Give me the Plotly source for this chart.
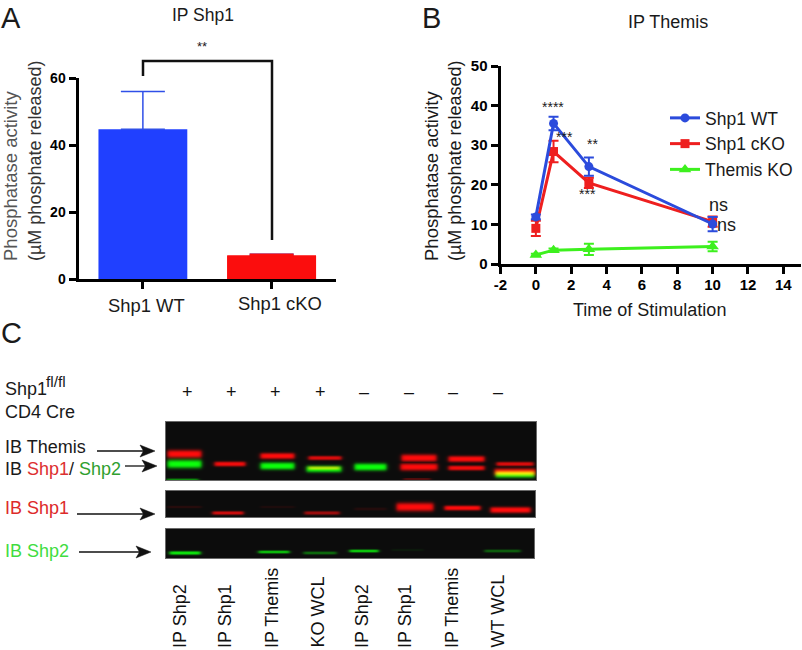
import numpy as np
import plotly.graph_objects as go

W, H = 802, 650
FONT = "Liberation Sans"

# Panel A
a_categories = ["Shp1 WT", "Shp1 cKO"]
a_values = [44.7, 7.0]
a_errors = [11.3, 0.4]
a_colors = ["#2040ff", "#fb0d0d"]

# Panel B
b_times = [0, 1, 3, 10]
b_wt = [11.9, 35.5, 24.6, 10.1]
b_wt_err = [0.6, 1.7, 2.3, 1.8]
b_cko = [9.0, 28.4, 20.5, 10.7]
b_cko_err = [1.9, 2.7, 1.3, 1.3]
b_tko = [2.3, 3.5, 3.7, 4.4]
b_tko_err = [0.3, 0.4, 1.4, 1.2]
b_xticks = [-2, 0, 2, 4, 6, 8, 10, 12, 14]
b_xticklabels = ["-2", "0", "2", "4", "6", "8", "10", "12", "14"]

# Panel C
lane_labels = ["IP Shp2", "IP Shp1", "IP Themis", "KO WCL", "IP Shp2", "IP Shp1", "IP Themis", "WT WCL"]
lane_signs = ["+", "+", "+", "+", "\u2013", "\u2013", "\u2013", "\u2013"]

# blot bands: x0, x1, y centre, thickness, channel, intensity
RED, GREEN = 0, 1
blot_bands = [
    (166, 203, 454, 6.5, RED, 1.0), (166, 203, 464, 7, GREEN, 1.0), (165, 200, 480, 2.5, GREEN, 0.55),
    (213, 247, 464, 4, RED, 0.95),
    (259, 296, 456, 5, RED, 1.0), (259, 296, 466, 6, GREEN, 1.0),
    (307, 343, 458, 3.5, RED, 0.85), (305, 343, 469, 5.5, GREEN, 0.95), (307, 341, 468, 3, RED, 0.65),
    (353, 388, 467, 6, GREEN, 1.0),
    (400, 438, 458, 6, RED, 1.0), (399, 439, 467, 6, RED, 1.0), (402, 432, 479, 1.5, RED, 0.35),
    (447, 486, 459, 5, RED, 1.0), (447, 486, 468, 4, RED, 0.95),
    (495, 535, 464, 3.5, RED, 0.85), (493, 537, 472, 6, RED, 1.0), (494, 536, 474.5, 5.5, GREEN, 0.95),
    # second panel
    (166, 203, 507, 2, RED, 0.12), (211, 245, 513, 3, RED, 0.8), (259, 296, 507, 2, RED, 0.08),
    (303, 341, 513, 3, RED, 0.6), (353, 388, 509, 2.5, RED, 0.1), (395, 435, 507, 7, RED, 1.0),
    (443, 482, 508, 4, RED, 1.0), (489, 532, 510, 5, RED, 1.0),
    # third panel
    (168, 202, 553, 3, GREEN, 0.9), (257, 291, 552, 2.5, GREEN, 0.75), (302, 338, 553, 2.5, GREEN, 0.4),
    (348, 380, 551, 2.5, GREEN, 0.8), (390, 425, 550, 2, GREEN, 0.06), (483, 522, 551, 2.5, GREEN, 0.35),
]
blot_panels = [(165, 537, 421, 481), (165, 536, 490, 518), (165, 535, 528, 559)]


def px(x):
    return x / W


def py(y):
    return 1 - y / H


def build_blot():
    x0, x1, y0, y1 = 164, 539, 420, 561
    xs = np.arange(x0, x1) + 0.5
    ys = np.arange(y0, y1) + 0.5
    img = np.full((len(ys), len(xs), 3), 255.0)
    for (a, b, c, d) in blot_panels:
        img[np.ix_((ys >= c) & (ys <= d), (xs >= a) & (xs <= b))] = 105
        img[np.ix_((ys >= c + 1) & (ys <= d - 1), (xs >= a + 1) & (xs <= b - 1))] = 12
    signal = np.zeros((len(ys), len(xs), 2))
    for (a, b, yc, t, ch, amp) in blot_bands:
        fy = np.exp(-np.abs((ys - yc) / (t * 0.62)) ** 2.6)
        fx = 1 / (1 + np.exp((a + 1.5 - xs) / 1.1)) * 1 / (1 + np.exp((xs - b + 1.5) / 1.1))
        signal[:, :, ch] = np.maximum(signal[:, :, ch], amp * np.outer(fy, fx))
    for (a, b, c, d) in blot_panels:
        sub = np.ix_((ys >= c + 1) & (ys <= d - 1), (xs >= a + 1) & (xs <= b - 1))
        reg = img[sub]
        s = signal[sub]
        reg[:, :, 0] = 12 + 243 * s[:, :, 0]
        reg[:, :, 1] = 12 + 243 * s[:, :, 1]
        reg[:, :, 2] = 12
        img[sub] = reg
    return img.astype(np.uint8), x0, y0, x1, y1


fig = go.Figure()

# ---------- Panel A
fig.add_trace(go.Bar(
    x=a_categories, y=a_values, width=0.69, marker=dict(color=a_colors, line=dict(width=0)),
    error_y=dict(type="data", symmetric=False, array=a_errors, arrayminus=[0, 0],
                 color="#2f4fe8", thickness=1.5, width=22),
    xaxis="x", yaxis="y", showlegend=False))
fig.add_trace(go.Bar(
    x=a_categories[1:], y=a_values[1:], width=0.69, marker=dict(color=a_colors[1], line=dict(width=0)),
    error_y=dict(type="data", symmetric=False, array=a_errors[1:], arrayminus=[0],
                 color=a_colors[1], thickness=1.5, width=22),
    xaxis="x", yaxis="y", showlegend=False))

# ---------- Panel B
for name, vals, errs, col, sym, ms in [
    ("Themis KO", b_tko, b_tko_err, "#3df01e", "triangle-up", 11),
    ("Shp1 cKO", b_cko, b_cko_err, "#ee1f1f", "square", 9),
    ("Shp1 WT", b_wt, b_wt_err, "#2b4bdc", "circle", 9),
]:
    fig.add_trace(go.Scatter(
        x=b_times, y=vals, name=name, mode="lines+markers",
        line=dict(color=col, width=3), marker=dict(color=col, symbol=sym, size=ms),
        error_y=dict(type="data", array=errs, color=col, thickness=2, width=5),
        xaxis="x2", yaxis="y2", cliponaxis=False))

# ---------- Panel C image
img, ix0, iy0, ix1, iy1 = build_blot()
fig.add_trace(go.Image(z=img, x0=ix0 + 0.5, y0=iy0 + 0.5, dx=1, dy=1, xaxis="x3", yaxis="y3", hoverinfo="skip"))

ann = []
shapes = []


def txt(x, y, s, size=18, color="#1a1a1a", xa="center", ya="middle", angle=0):
    ann.append(dict(x=px(x), y=py(y), xref="paper", yref="paper", text=s, showarrow=False,
                    xanchor=xa, yanchor=ya, textangle=angle, font=dict(size=size, color=color, family=FONT)))


def arrow(x0, y, x1):
    shapes.append(dict(type="line", xref="paper", yref="paper", x0=px(x0), x1=px(x1 - 10), y0=py(y), y1=py(y),
                       line=dict(color="#111", width=1.3)))
    shapes.append(dict(type="path", xref="paper", yref="paper",
                       path=f"M {px(x1)} {py(y)} L {px(x1 - 15)} {py(y - 6)} L {px(x1 - 11.5)} {py(y)} L {px(x1 - 15)} {py(y + 6)} Z",
                       fillcolor="#111", line=dict(color="#111", width=0.5)))


# panel letters and titles
txt(11, 18, "A", 29)
txt(431, 18, "B", 29)
txt(11, 333, "C", 29)
txt(203, 15, "IP Shp1", 17.5)
txt(668, 22, "IP Themis", 18)
txt(202, 47, "**", 13)

# panel A text
txt(10, 263, "Phosphatase activity", 18.5, "#555", ya="bottom", angle=-90)
txt(35, 263, "(\u00b5M phosphate released)", 18, "#333", ya="bottom", angle=-90)
txt(146, 305, a_categories[0], 18.4)
txt(280, 304, a_categories[1], 18.4)

# panel B text
txt(431, 263, "Phosphatase activity", 18.5, ya="bottom", angle=-90)
txt(455, 263, "(\u00b5M phosphate released)", 18, ya="bottom", angle=-90)
txt(649, 310, "Time of Stimulation", 18)
txt(553, 107, "****", 14)
txt(564, 137, "***", 14)
txt(592, 144, "**", 14)
txt(587, 194, "***", 14)
txt(718, 205, "ns", 18)
txt(726, 225, "ns", 18)

# panel C text
txt(3, 389, "Shp1", 18, xa="left")
txt(44, 381, "fl/fl", 15.5, xa="left")
txt(3, 412, "CD4 Cre", 18, xa="left")
txt(3, 447, "IB Themis", 18, xa="left")
txt(3, 469, 'IB <span style="color:#dd3030">Shp1</span>/ <span style="color:#2fa02f">Shp2</span>', 18, xa="left")
txt(3, 508, "IB Shp1", 18, "#dd2a2a", xa="left")
txt(3, 551, "IB Shp2", 18, "#3fdc3f", xa="left")
for xc, s in zip([187, 231, 275, 320, 364, 409, 453, 498], lane_signs):
    txt(xc, 392, s, 18, "#111")
for xc, s in zip([180, 225, 272, 317, 362, 405, 452, 497], lane_labels):
    txt(xc, 650, s, 18, "#111", ya="bottom", angle=-90)
arrow(97, 451, 155)
arrow(125, 466, 157)
arrow(77, 514, 155)
arrow(79, 552, 151)

# bracket
shapes.append(dict(type="path", xref="paper", yref="paper",
                   path=f"M {px(143)} {py(76)} L {px(143)} {py(61)} L {px(272)} {py(61)} L {px(272)} {py(240)}",
                   line=dict(color="#111", width=2.5)))

axis_common = dict(showgrid=False, zeroline=False, showline=True, linecolor="#000", linewidth=3,
                   ticks="outside", ticklen=7, tickwidth=3, tickcolor="#000")

fig.update_layout(
    width=W, height=H, autosize=False, margin=dict(l=0, r=0, t=0, b=0, pad=0, autoexpand=False),
    paper_bgcolor="white", plot_bgcolor="rgba(0,0,0,0)",
    font=dict(family=FONT), showlegend=True, barmode="overlay",
    legend=dict(x=px(665), y=py(100), xanchor="left", yanchor="top", bgcolor="rgba(0,0,0,0)",
                font=dict(size=17.5, color="#1a1a1a"), traceorder="reversed", itemwidth=30),
    xaxis=dict(domain=[px(78.5), px(336)], range=[-0.5, 1.5], anchor="y", showticklabels=False, **axis_common),
    yaxis=dict(domain=[py(279), py(78)], range=[0, 60], anchor="x", tickvals=[0, 20, 40, 60],
               tickfont=dict(size=14, family=FONT, color="#000", weight="bold"), **axis_common),
    xaxis2=dict(domain=[px(500.5), px(801)], range=[-2, 15], anchor="y2", tickvals=b_xticks, ticktext=b_xticklabels,
                ticklabelstandoff=-2, tickfont=dict(size=15, color="#000", weight="bold"), **axis_common),
    yaxis2=dict(domain=[py(264), py(66)], range=[0, 50], anchor="x2", tickvals=list(range(0, 60, 10)),
                tickfont=dict(size=15, color="#000", weight="bold"), **axis_common),
    xaxis3=dict(domain=[px(ix0), px(ix1)], range=[ix0, ix1], anchor="y3", visible=False),
    yaxis3=dict(domain=[py(iy1), py(iy0)], range=[iy1, iy0], anchor="x3", visible=False),
    annotations=ann, shapes=shapes,
)

fig.write_html(
    "out.html",
    config={"displayModeBar": False, "responsive": False},
    post_script="document.body.style.margin='0';document.body.style.overflow='hidden';",
)
